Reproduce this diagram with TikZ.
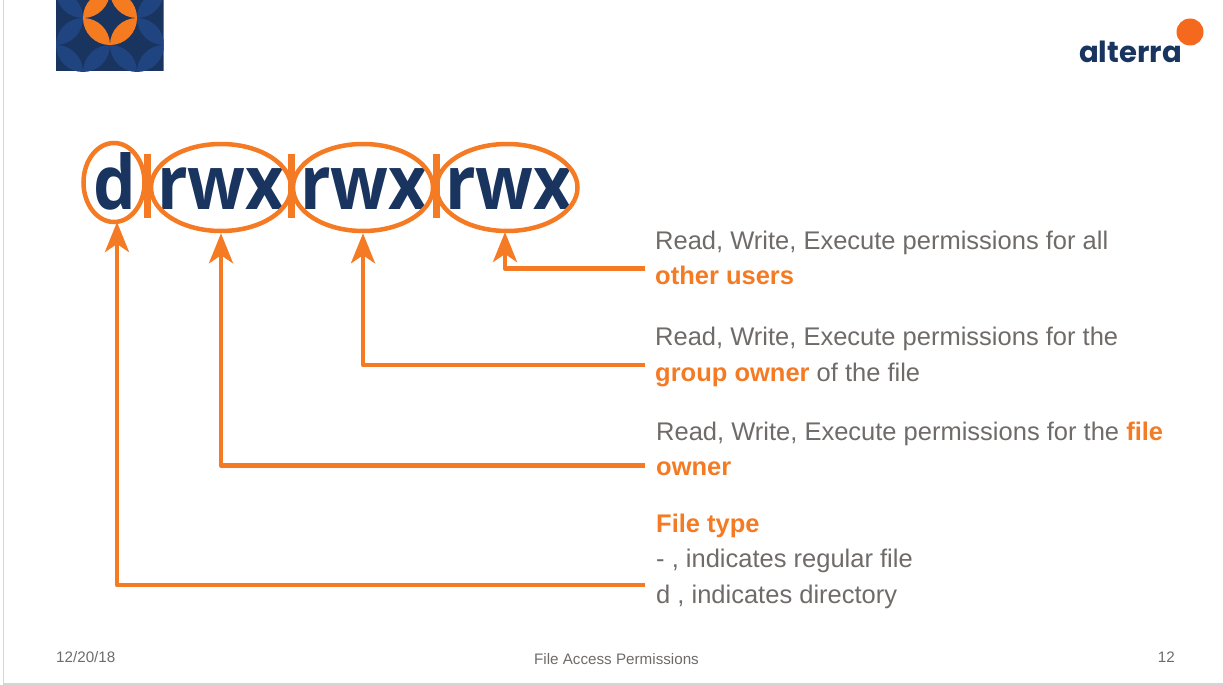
\documentclass[tikz,border=0pt]{standalone}
\usepackage{fontspec}
\usetikzlibrary{shapes.geometric,arrows.meta}
\setmainfont{Liberation Sans}
\newfontfamily\bigfont[FakeStretch=0.9]{Open Sans}
\newfontfamily\logofont{Poppins}
\definecolor{permorange}{HTML}{F47A24}
\definecolor{lensorange}{HTML}{F57B20}
\definecolor{logoorange}{HTML}{F4691E}
\definecolor{permnavy}{HTML}{19345F}
\definecolor{lensblue}{HTML}{1F4480}
\definecolor{permgray}{HTML}{6F6B69}
\definecolor{edgegray}{HTML}{D4D5D8}
\newcommand{\hl}[1]{{\bfseries\color{permorange}#1}}

\begin{document}
\begin{tikzpicture}[x=1pt,y=-1pt]
\tikzstyle{every node}=[font=\fontsize{25.5}{35.5}\selectfont,text=permgray,inner sep=0pt]
\tikzstyle{permring}=[draw=permorange,line width=4.5pt,ellipse,inner sep=0pt]
\tikzstyle{permtext}=[font=\bigfont\bfseries\fontsize{75}{75}\selectfont,text=permnavy,anchor=base]
\tikzstyle{permbar}=[fill=permorange,minimum width=7pt,minimum height=64pt]
\tikzstyle{pointer}=[draw=permorange,line width=4.5pt,line join=round,-{Stealth[length=30pt,width=24pt,inset=8pt]}]
\tikzstyle{label}=[anchor=west,align=left]
\tikzstyle{footer}=[font=\fontsize{15.2}{16}\selectfont]
\useasboundingbox (0,0) rectangle (1223,685);

\draw[edgegray,line width=1.5pt] (3.5,0) -- (3.5,684) -- (1223,684);

\begin{scope}
	\clip (56,0) rectangle (163.5,71.5);
	\fill[permnavy] (56,0) rectangle (163.5,71.5);
	\foreach \ax/\ay/\dx/\dy in {56/-9/1/1,83/18/-1/1,56/45/1/1,110/45/-1/1,110/45/1/1,137/72/1/-1,137/18/1/1,137/18/1/-1}
		\fill[lensblue] (\ax,\ay) .. controls (\ax,\ay+15*\dy) and (\ax+12*\dx,\ay+27*\dy) .. (\ax+27*\dx,\ay+27*\dy) .. controls (\ax+27*\dx,\ay+12*\dy) and (\ax+15*\dx,\ay) .. (\ax,\ay);
	\foreach \ax/\ay/\dx/\dy in {83/18/1/1,110/45/1/-1,110/-9/-1/1,110/-9/1/1}
		\fill[lensorange] (\ax,\ay) .. controls (\ax,\ay+15*\dy) and (\ax+12*\dx,\ay+27*\dy) .. (\ax+27*\dx,\ay+27*\dy) .. controls (\ax+27*\dx,\ay+12*\dy) and (\ax+15*\dx,\ay) .. (\ax,\ay);
\end{scope}

\node[font=\logofont\bfseries\fontsize{29.1}{30}\selectfont,text=permnavy,anchor=base west] (logotext) at (1079,63) {alterra};
\node[circle,fill=logoorange,minimum size=27pt] (logodot) at (1190,32) {};

\node[permtext] (typetext) at (115,209) {d};
\node[permtext] (ownertext) at (221,209) {rwx};
\node[permtext] (grouptext) at (364,209) {rwx};
\node[permtext] (otherstext) at (509,209) {rwx};

\node[permring,minimum width=61pt,minimum height=79pt] (typering) at (114,182.5) {};
\node[permring,minimum width=140pt,minimum height=87pt] (ownerring) at (221,187.5) {};
\node[permring,minimum width=140pt,minimum height=87pt] (groupring) at (363,187.5) {};
\node[permring,minimum width=141pt,minimum height=87pt] (othersring) at (507,187.5) {};

\node[permbar] (bara) at (147.5,186) {};
\node[permbar] (barb) at (291,186) {};
\node[permbar] (barc) at (436,186) {};

\node[label] (otherslabel) at (655,258) {Read, Write, Execute permissions for all\\\hl{other users}};
\node[label] (grouplabel) at (655,357) {Read, Write, Execute permissions for the\\\hl{group owner} of the file};
\node[label] (ownerlabel) at (656,449) {Read, Write, Execute permissions for the \hl{file}\\\hl{owner}};
\node[label] (typelabel) at (656,561) {\hl{File type}\\- , indicates regular file\\d , indicates directory};

\coordinate (othersend) at (645,268.5);
\coordinate (groupend) at (645,365);
\coordinate (ownerend) at (645,465.5);
\coordinate (typeend) at (645,585);

\draw[pointer] (othersend) -| (505,232);
\draw[pointer] (groupend) -| (groupring.south);
\draw[pointer] (ownerend) -| (ownerring.south);
\draw[pointer] (typeend) -| (117,222);

\node[footer,anchor=west] (datelabel) at (56,657) {12/20/18};
\node[footer,anchor=center] (titlelabel) at (616.5,659) {File Access Permissions};
\node[footer,anchor=east] (pagelabel) at (1175,657) {12};
\end{tikzpicture}
\end{document}
